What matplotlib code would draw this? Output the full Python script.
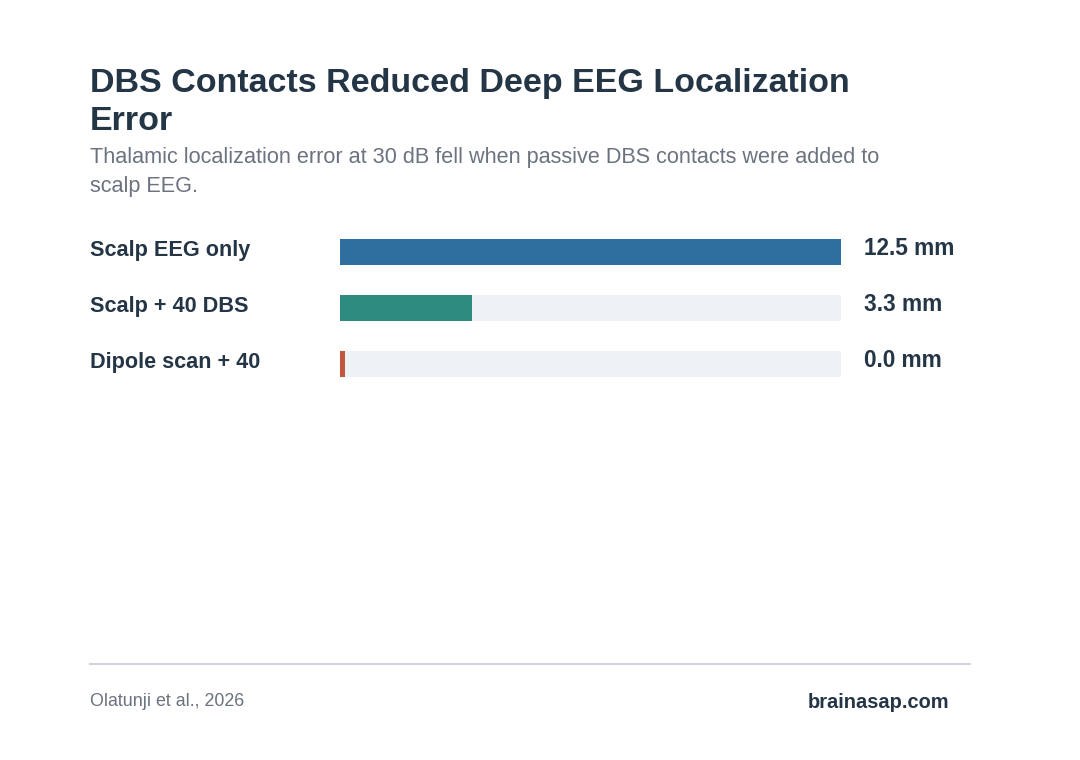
import matplotlib
matplotlib.use("Agg")
import matplotlib.pyplot as plt
from matplotlib.transforms import blended_transform_factory

# data
categories = ["Scalp EEG only", "Scalp + 40 DBS", "Dipole scan + 40"]
errors_mm = [12.5, 3.3, 0.0]
bar_colors = ["#2f6f9f", "#2e8b7f", "#c0583f"]

W, H = 1080, 760
DARK = "#243546"
GRAY = "#6b7280"
TRACK = "#edf2f7"

plt.rcParams["font.family"] = ["Liberation Sans", "DejaVu Sans"]

fig = plt.figure(figsize=(W / 100, H / 100), dpi=100)
fig.patch.set_facecolor("white")


def fx(px):
    return px / W


def fy(py):
    return 1 - py / H


# title + subtitle
fig.text(fx(90), fy(92), "DBS Contacts Reduced Deep EEG Localization", fontsize=24.5,
         fontweight="bold", color=DARK, va="baseline")
fig.text(fx(90), fy(130), "Error", fontsize=24.5, fontweight="bold", color=DARK, va="baseline")
fig.text(fx(90), fy(163), "Thalamic localization error at 30 dB fell when passive DBS contacts were added to",
         fontsize=15.55, color=GRAY, va="baseline")
fig.text(fx(90), fy(192), "scalp EEG.", fontsize=15.55, color=GRAY, va="baseline")

# bars
top, row = 224, 56
ax = fig.add_axes([fx(340), fy(top + row * len(categories)), 501 / W, row * len(categories) / H])
xmax = max(errors_mm)
ax.set_xlim(0, xmax)
ax.set_ylim(len(categories) - 0.5, -0.5)
ax.axis("off")

ypos = list(range(len(categories)))
bh = 26 / row
ax.barh(ypos, [xmax] * len(categories), height=bh, color=TRACK, zorder=1)
# keep a sliver visible for near-zero values
shown = [max(v, xmax * 0.01) for v in errors_mm]
ax.barh(ypos, shown, height=bh, color=bar_colors, zorder=2)

lab_tr = blended_transform_factory(fig.transFigure, ax.transData)
for y, name, v in zip(ypos, categories, errors_mm):
    ax.text(fx(90), y - 0.02, name, transform=lab_tr, fontsize=15.6, fontweight="bold",
            color=DARK, va="center", ha="left", clip_on=False)
    ax.text(fx(864), y - 0.07, f"{v:.1f} mm", transform=lab_tr, fontsize=16.3,
            fontweight="bold", color=DARK, va="center", ha="left", clip_on=False)

# footer
fig.add_artist(plt.Line2D([fx(90), fx(970)], [fy(664), fy(664)], color="#d1d5db", lw=1.5))
fig.text(fx(90), fy(701), "Olatunji et al., 2026", fontsize=12.9, color=GRAY, va="center")
fig.text(fx(949), fy(702), "brainasap.com", fontsize=14.4, fontweight="bold", color=DARK,
         va="center", ha="right")

fig.savefig("out.png", dpi=100, facecolor="white")
